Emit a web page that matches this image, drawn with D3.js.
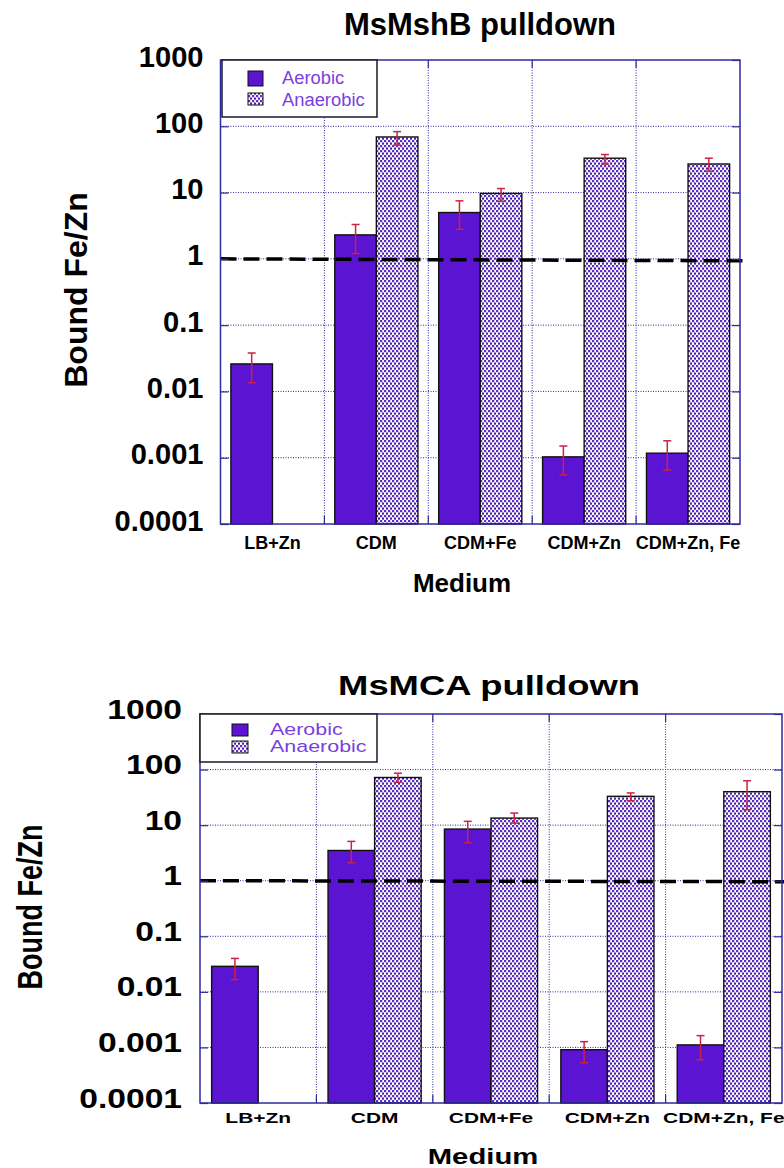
<!DOCTYPE html>
<html><head><meta charset="utf-8">
<script src="https://cdn.jsdelivr.net/npm/d3@7"></script>
<style>body{margin:0;background:#fff}svg{display:block}</style>
</head><body>
<svg id="c" width="784" height="1168"></svg>
<script>
// ---- data ----
const categories = ["LB+Zn", "CDM", "CDM+Fe", "CDM+Zn", "CDM+Zn, Fe"];
const seriesNames = ["Aerobic", "Anaerobic"];
const yTickValues = [1e-4, 1e-3, 1e-2, 1e-1, 1, 10, 100, 1000];
const yTickLabels = ["0.0001", "0.001", "0.01", "0.1", "1", "10", "100", "1000"];
const thresholdValue = 1;

// MsMshB pulldown
const mshbAerobic     = [0.026, 2.3, 5.0, 0.00103, 0.00117];
const mshbAerobicHi   = [0.038, 3.3, 7.5, 0.0015, 0.0018];
const mshbAerobicLo   = [0.0135, 1.2, 2.8, 0.00055, 0.00065];
const mshbAnaerobic   = [null, 69, 9.7, 33, 27];
const mshbAnaerobicHi = [null, 83, 11.5, 37.5, 33];
const mshbAnaerobicLo = [null, 52, 7.4, 27, 21];

// MsMCA pulldown
const mcaAerobic     = [0.0288, 3.5, 8.5, 0.00091, 0.00111];
const mcaAerobicHi   = [0.040, 5.1, 11.7, 0.00127, 0.00163];
const mcaAerobicLo   = [0.0166, 2.1, 4.8, 0.00053, 0.0006];
const mcaAnaerobic   = [null, 72, 13.4, 33, 40];
const mcaAnaerobicHi = [null, 86, 16.5, 38, 63];
const mcaAnaerobicLo = [null, 59, 10.9, 27.5, 19];

// ---- drawing ----
const svg = d3.select("#c");
const FONT = "'Liberation Sans', Arial, Helvetica, sans-serif";
const AERO = "#5a14d2";
const AXIS = "#2f2a9e";
const LEG_TXT = "#7a3fe0";
const ERR = "#cc2244";

const defs = svg.append("defs");
const pat = defs.append("pattern").attr("id", "dots")
  .attr("patternUnits", "userSpaceOnUse").attr("width", 4).attr("height", 5);
pat.append("rect").attr("width", 4).attr("height", 5).attr("fill", "#fff");
pat.append("rect").attr("x", 0).attr("y", 0).attr("width", 2.2).attr("height", 2.2).attr("fill", "#5f28d4");
pat.append("rect").attr("x", 2).attr("y", 2.5).attr("width", 2.2).attr("height", 2.2).attr("fill", "#432594");

function txt(g, x, y, s, o) {
  const sx = o.sx || 1;
  let tr = `translate(${x},${y}) scale(${sx},1)`;
  if (o.rotate) tr += ` rotate(${o.rotate})`;
  return g.append("text").attr("transform", tr)
    .attr("font-family", FONT).attr("font-size", o.size)
    .attr("font-weight", o.weight || "normal")
    .attr("text-anchor", o.anchor || "middle")
    .attr("fill", o.fill || "#000").text(s);
}

function drawChart(c) {
  const g = svg.append("g");
  const y = d3.scaleLog().domain([1e-4, 1e3]).range([c.bottom, c.top]);
  const x = d3.scaleBand().domain(categories).range([c.left, c.right]).padding(0);
  const xs = d3.scaleBand().domain(seriesNames).range([0, x.bandwidth()])
    .paddingInner(0).paddingOuter(0.25);

  // grid
  g.append("g").selectAll("line").data(yTickValues.slice(1, -1)).join("line")
    .attr("x1", c.left).attr("x2", c.right)
    .attr("y1", d => y(d)).attr("y2", d => y(d))
    .attr("stroke", AXIS).attr("stroke-width", 1).attr("stroke-dasharray", "1,1.5");
  g.append("g").selectAll("line").data(categories.slice(1)).join("line")
    .attr("x1", d => x(d)).attr("x2", d => x(d))
    .attr("y1", c.top).attr("y2", c.bottom)
    .attr("stroke", AXIS).attr("stroke-width", 1).attr("stroke-dasharray", "1,1.5");

  // bars
  const rows = [];
  categories.forEach((cat, i) => {
    rows.push({cat, s: "Aerobic", v: c.aero[i], hi: c.aeroHi[i], lo: c.aeroLo[i]});
    rows.push({cat, s: "Anaerobic", v: c.anaero[i], hi: c.anaeroHi[i], lo: c.anaeroLo[i]});
  });
  const valid = rows.filter(d => d.v != null);
  g.append("g").selectAll("rect").data(valid).join("rect")
    .attr("x", d => x(d.cat) + xs(d.s))
    .attr("width", xs.bandwidth())
    .attr("y", d => y(d.v))
    .attr("height", d => y(1e-4) - y(d.v))
    .attr("fill", d => d.s === "Aerobic" ? AERO : "url(#dots)")
    .attr("stroke", "#111").attr("stroke-width", 1.4);

  // error bars
  const eb = g.append("g").attr("stroke", ERR).attr("stroke-width", 1.5);
  valid.forEach(d => {
    const cx = x(d.cat) + xs(d.s) + xs.bandwidth() / 2;
    eb.append("line").attr("x1", cx).attr("x2", cx).attr("y1", y(d.hi)).attr("y2", y(d.lo));
    eb.append("line").attr("x1", cx - 4).attr("x2", cx + 4).attr("y1", y(d.hi)).attr("y2", y(d.hi));
    eb.append("line").attr("x1", cx - 4).attr("x2", cx + 4).attr("y1", y(d.lo)).attr("y2", y(d.lo));
  });

  // threshold dashed line
  g.append("line").attr("x1", c.left).attr("x2", c.dashEnd)
    .attr("y1", y(thresholdValue)).attr("y2", y(thresholdValue) + c.dashSlope)
    .attr("stroke", "#000").attr("stroke-width", 3.5).attr("stroke-dasharray", "16,7");

  // axes (tick marks inside)
  const yl = g.append("g").attr("transform", `translate(${c.left},0)`)
    .call(d3.axisLeft(y).tickValues(yTickValues).tickFormat((d, i) => yTickLabels[i])
      .tickSizeInner(-8).tickSizeOuter(0).tickPadding(c.tickPad));
  yl.select(".domain").remove();
  yl.selectAll("line").attr("stroke", AXIS).attr("stroke-width", 1.2);
  yl.selectAll("text").attr("x", null).attr("dy", null)
    .attr("transform", `translate(${-c.tickPad},${c.tickDy}) scale(${c.tickSx},1)`)
    .attr("font-family", FONT).attr("font-size", c.tickSize).attr("font-weight", "bold")
    .attr("fill", "#000").attr("text-anchor", "end");

  const yr = g.append("g").attr("transform", `translate(${c.right},0)`)
    .call(d3.axisRight(y).tickValues(yTickValues).tickFormat("").tickSizeInner(-8).tickSizeOuter(0));
  yr.select(".domain").remove();
  yr.selectAll("line").attr("stroke", AXIS).attr("stroke-width", 1.2);

  const bounds = categories.slice(1);
  g.append("g").selectAll("line").data(bounds).join("line")
    .attr("x1", d => x(d)).attr("x2", d => x(d))
    .attr("y1", c.bottom).attr("y2", c.bottom - 8)
    .attr("stroke", AXIS).attr("stroke-width", 1.2);
  g.append("g").selectAll("line").data(bounds).join("line")
    .attr("x1", d => x(d)).attr("x2", d => x(d))
    .attr("y1", c.top).attr("y2", c.top + 8)
    .attr("stroke", AXIS).attr("stroke-width", 1.2);

  // frame
  g.append("rect").attr("x", c.left).attr("y", c.top)
    .attr("width", c.right - c.left).attr("height", c.bottom - c.top)
    .attr("fill", "none").attr("stroke", AXIS).attr("stroke-width", 1.5);

  // category labels
  categories.forEach(cat => {
    txt(g, x(cat) + x.bandwidth() / 2, c.bottom + c.xlabDy, cat,
      {size: c.xlabSize, weight: "bold", sx: c.xlabSx});
  });

  // titles
  txt(g, c.mediumX, c.mediumY, "Medium", {size: c.mediumSize, weight: "bold", sx: c.mediumSx});
  txt(g, c.titleX, c.titleY, c.title, {size: c.titleSize, weight: "bold", sx: c.titleSx});
  txt(g, c.ytX, c.ytY, "Bound Fe/Zn", {size: c.ytSize, weight: "bold", sx: c.ytSx, rotate: -90});

  // legend
  const L = c.legend;
  g.append("rect").attr("x", L.x).attr("y", L.y).attr("width", L.w).attr("height", L.h)
    .attr("fill", "#fff").attr("stroke", "#1a1a2a").attr("stroke-width", 1.5);
  seriesNames.forEach((s, i) => {
    g.append("rect").attr("x", L.sx).attr("y", L.swY[i]).attr("width", L.sw).attr("height", L.swH[i])
      .attr("fill", i === 0 ? AERO : "url(#dots)").attr("stroke", "#111").attr("stroke-width", 1);
    txt(g, L.tx, L.ty[i], s, {size: L.size, sx: L.tsx, anchor: "start", fill: LEG_TXT});
  });
}

drawChart({
  title: "MsMshB pulldown",
  aero: mshbAerobic, aeroHi: mshbAerobicHi, aeroLo: mshbAerobicLo,
  anaero: mshbAnaerobic, anaeroHi: mshbAnaerobicHi, anaeroLo: mshbAnaerobicLo,
  left: 220.5, right: 740, top: 60, bottom: 524, dashEnd: 748, dashSlope: 2,
  tickPad: 17, tickDy: 6, tickSize: 30, tickSx: 0.97,
  xlabDy: 25, xlabSize: 18, xlabSx: 1,
  mediumX: 462, mediumY: 592, mediumSize: 26, mediumSx: 1,
  titleX: 480, titleY: 35, titleSize: 31, titleSx: 1,
  ytX: 87, ytY: 290, ytSize: 32, ytSx: 1,
  legend: {x: 222, y: 60, w: 155, h: 57, sx: 248, sw: 15, swY: [71, 93], swH: [15, 12],
           tx: 282, ty: [84, 106], size: 18, tsx: 1.02}
});

drawChart({
  title: "MsMCA pulldown",
  aero: mcaAerobic, aeroHi: mcaAerobicHi, aeroLo: mcaAerobicLo,
  anaero: mcaAnaerobic, anaeroHi: mcaAnaerobicHi, anaeroLo: mcaAnaerobicLo,
  left: 200, right: 782, top: 714, bottom: 1103, dashEnd: 784, dashSlope: 1,
  tickPad: 18, tickDy: 4, tickSize: 28, tickSx: 1.2,
  xlabDy: 20, xlabSize: 15.5, xlabSx: 1.35,
  mediumX: 483, mediumY: 1164, mediumSize: 22, mediumSx: 1.33,
  titleX: 489, titleY: 695, titleSize: 28, titleSx: 1.3,
  ytX: 42, ytY: 907, ytSize: 27, ytSx: 1.3,
  legend: {x: 200, y: 714, w: 177, h: 48, sx: 232, sw: 16, swY: [724, 741], swH: [12, 12],
           tx: 270, ty: [735, 752], size: 16.5, tsx: 1.3}
});
</script>
</body></html>
